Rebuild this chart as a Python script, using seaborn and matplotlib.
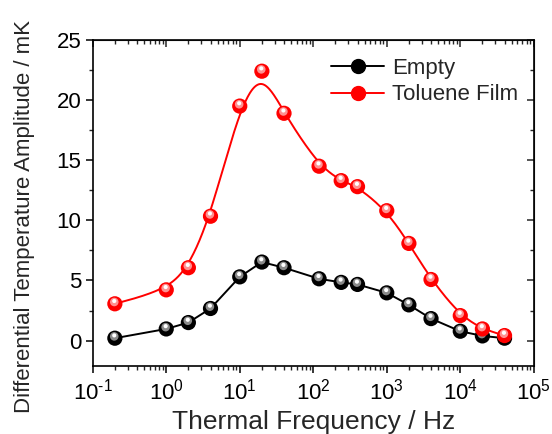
import numpy as np
import pandas as pd
import matplotlib
matplotlib.use("Agg")
import matplotlib.pyplot as plt
import matplotlib.transforms as mtransforms
from matplotlib.lines import Line2D
import seaborn as sns

# ---- data ----
freq = [0.2, 1, 2, 4, 10, 20, 40, 120, 240, 400, 1000, 2000, 4000, 10000, 20000, 40000]
empty = [0.2, 0.97, 1.5, 2.67, 5.3, 6.53, 6.06, 5.14, 4.84, 4.67, 3.97, 2.97, 1.83, 0.78, 0.39, 0.2]
toluene = [3.06, 4.22, 6.06, 10.34, 19.5, 22.4, 18.9, 14.5, 13.3, 12.8, 10.8, 8.08, 5.08, 2.08, 0.97, 0.42]
series_names = ["Empty", "Toluene Film"]
series_colors = ["black", "#ff0000"]
x_ticks = [1e-1, 1e0, 1e1, 1e2, 1e3, 1e4, 1e5]
x_ticklabels = [r"$\mathdefault{10^{\text{-}1}}$", r"$\mathdefault{10^{0}}$", r"$\mathdefault{10^{1}}$",
                r"$\mathdefault{10^{2}}$", r"$\mathdefault{10^{3}}$", r"$\mathdefault{10^{4}}$",
                r"$\mathdefault{10^{5}}$"]
y_ticks = [0, 5, 10, 15, 20, 25]

sns.set_style("ticks")
plt.rcParams["font.family"] = ["Liberation Sans", "DejaVu Sans"]
plt.rcParams["mathtext.fontset"] = "custom"
plt.rcParams["mathtext.rm"] = "Liberation Sans"
plt.rcParams["mathtext.it"] = "Liberation Sans:italic"

df = pd.DataFrame({"freq": freq * 2,
                   "amp": empty + toluene,
                   "series": [series_names[0]] * len(freq) + [series_names[1]] * len(freq)})

fig = plt.figure(figsize=(5.52, 4.34), dpi=100)
ax = fig.add_axes([0.168, 0.157, 0.799, 0.751])
ax.set_xscale("log")


def bspline(xs, ys, n=30):
    """Uniform cubic B-spline through control points (log-x space)."""
    P = np.column_stack([np.log10(xs), ys])
    P = np.vstack([P[0], P[0], P, P[-1], P[-1]])
    out = []
    M = np.array([[-1, 3, -3, 1], [3, -6, 3, 0], [-3, 0, 3, 0], [1, 4, 1, 0]]) / 6.0
    for i in range(len(P) - 3):
        G = P[i:i + 4]
        t = np.linspace(0, 1, n, endpoint=False)
        T = np.column_stack([t ** 3, t ** 2, t, np.ones_like(t)])
        out.append(T @ M @ G)
    out.append(P[-1:])
    C = np.vstack(out)
    return 10 ** C[:, 0], C[:, 1]


def balls(sub, color, mid, z):
    sns.scatterplot(data=sub, x="freq", y="amp", ax=ax, color=color, s=120,
                    edgecolor="none", linewidth=0, zorder=z, legend=False)
    off1 = mtransforms.offset_copy(ax.transData, fig=fig, x=-0.6, y=1.8, units="dots")
    ax.scatter(sub["freq"], sub["amp"], s=38, color=mid, edgecolor="none",
               transform=off1, zorder=z + 0.1)
    off2 = mtransforms.offset_copy(ax.transData, fig=fig, x=-0.6, y=2.8, units="dots")
    ax.scatter(sub["freq"], sub["amp"], s=9, color="white", edgecolor="none",
               transform=off2, zorder=z + 0.2)


# Empty: straight segments
sub_e = df[df.series == series_names[0]]
sns.lineplot(data=sub_e, x="freq", y="amp", ax=ax, color=series_colors[0], lw=1.4,
             zorder=2, legend=False, sort=False)
balls(sub_e, series_colors[0], "#8a8a8a", 3)

# Toluene film: smoothed spline
sub_t = df[df.series == series_names[1]]
sx, sy = bspline(sub_t["freq"].values, sub_t["amp"].values)
ax.plot(sx, sy, color=series_colors[1], lw=1.4, zorder=4)
balls(sub_t, series_colors[1], "#ff9090", 5)

ax.set_xlim(1e-1, 1e5)
ax.set_ylim(-2.1, 25)
ax.set_xticks(x_ticks)
ax.set_xticklabels(x_ticklabels)
ax.set_yticks(y_ticks)
ax.xaxis.set_minor_locator(matplotlib.ticker.LogLocator(base=10, subs=np.arange(2, 10), numticks=100))
ax.xaxis.set_minor_formatter(matplotlib.ticker.NullFormatter())
ax.yaxis.set_minor_locator(matplotlib.ticker.MultipleLocator(2.5))

for sp in ax.spines.values():
    sp.set_linewidth(1.2)
    sp.set_color("black")
    sp.set_visible(True)

ax.tick_params(which="major", direction="out", length=5, width=1.1, labelsize=16,
               colors="black", pad=3)
ax.tick_params(axis="x", which="major", pad=4)
ax.tick_params(which="minor", direction="out", length=3, width=1.0)

top = ax.secondary_xaxis("top")
top.tick_params(which="both", direction="in", labeltop=False)
top.tick_params(which="major", length=5, width=1.1)
top.tick_params(which="minor", length=3, width=1.0)
top.set_xticks(x_ticks)
top.xaxis.set_minor_locator(matplotlib.ticker.LogLocator(base=10, subs=np.arange(2, 10), numticks=100))
top.xaxis.set_major_formatter(matplotlib.ticker.NullFormatter())
top.xaxis.set_minor_formatter(matplotlib.ticker.NullFormatter())
right = ax.secondary_yaxis("right")
right.tick_params(which="both", direction="in", labelright=False)
right.tick_params(which="major", length=5, width=1.1)
right.tick_params(which="minor", length=3, width=1.0)
right.set_yticks(y_ticks)
right.yaxis.set_minor_locator(matplotlib.ticker.MultipleLocator(2.5))
right.yaxis.set_major_formatter(matplotlib.ticker.NullFormatter())

ax.set_xlabel("Thermal Frequency / Hz", fontsize=19, labelpad=4)
ax.set_ylabel("Differential Temperature Amplitude / mK", fontsize=16)
ax.yaxis.set_label_coords(-0.13, 0.457)

handles = [Line2D([], [], color=c, lw=1.4, marker="o", markersize=10,
                  markerfacecolor=c, markeredgecolor=c) for c in series_colors]
leg = ax.legend(handles, series_names, loc="upper left", bbox_to_anchor=(0.54, 0.945),
                frameon=False, fontsize=16, handlelength=2.4, handletextpad=0.35,
                labelspacing=0.25, borderpad=0, borderaxespad=0, numpoints=1)

fig.savefig("out.png", dpi=100)
